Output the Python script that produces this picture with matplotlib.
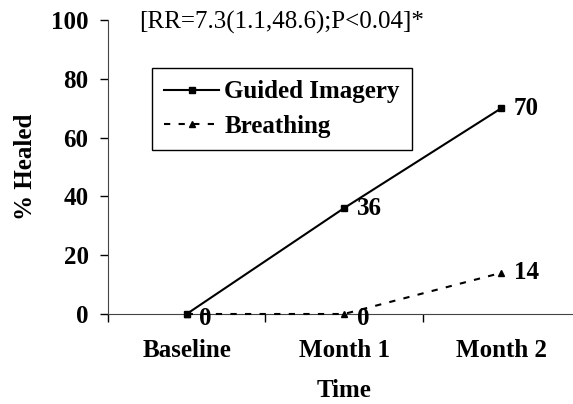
import numpy as np
import matplotlib
matplotlib.use("Agg")
import matplotlib.pyplot as plt

categories = ["Baseline", "Month 1", "Month 2"]
guided = [0, 36, 70]
breathing = [0, 0, 14]
yticks = [0, 20, 40, 60, 80, 100]
note = "[RR=7.3(1.1,48.6);P<0.04]*"

plt.rcParams["font.family"] = ["Liberation Serif", "DejaVu Serif"]
fs = 18

fig = plt.figure(figsize=(5.73, 4.04), dpi=100)
ax = fig.add_axes([108 / 573, 90 / 404, 472 / 573, 294 / 404])

x = np.arange(len(categories))
ax.plot(x, guided, color="black", lw=1.5, marker="s", ms=5, label="Guided Imagery",
        clip_on=False, zorder=3)
ax.plot(x, breathing, color="black", lw=1.5, ls=(0, (3, 4)), marker="^", ms=5,
        label="Breathing", clip_on=False, zorder=3)

for xi, v in zip(x, guided):
    if v > 0:
        ax.annotate(str(v), (xi, v), xytext=(9, 0), textcoords="offset points",
                    va="center", ha="left", fontsize=fs, fontweight="bold")
for xi, v in zip(x, breathing):
    ax.annotate(str(v), (xi, v), xytext=(9, -3 if v == 0 else 0),
                textcoords="offset points", va="center", ha="left",
                fontsize=fs, fontweight="bold")

ax.set_xlim(-0.5, 2.5)
ax.set_ylim(0, 100)
ax.set_yticks(yticks)
ax.set_xticks(x)
ax.set_xticklabels(categories, fontsize=fs, fontweight="bold")
ax.set_xticks([-0.5, 0.5, 1.5, 2.5], minor=True)
ax.tick_params(axis="x", which="major", length=0, pad=18)
ax.tick_params(axis="x", which="minor", length=6, width=1, direction="out")
ax.tick_params(axis="y", length=6, width=1, direction="out", pad=8, labelsize=fs)
for lab in ax.get_yticklabels():
    lab.set_fontweight("bold")

ax.spines["top"].set_visible(False)
ax.spines["right"].set_visible(False)
ax.spines["left"].set_color("#444444")
ax.spines["bottom"].set_color("#444444")

ax.set_xlabel("Time", fontsize=fs, fontweight="bold", labelpad=12)
ax.set_ylabel("% Healed", fontsize=fs, fontweight="bold", labelpad=10)

ax.text(0.065, 0.99, note, transform=ax.transAxes, fontsize=fs, va="center", ha="left")

leg = ax.legend(loc="upper left", bbox_to_anchor=(0.093, 0.837), borderaxespad=0,
                fancybox=False, edgecolor="black", framealpha=1,
                prop={"weight": "bold", "size": fs},
                handlelength=2.2, borderpad=0.5, labelspacing=0.45, handletextpad=0.2)
leg.get_frame().set_linewidth(1)

fig.savefig("out.png", dpi=100)
